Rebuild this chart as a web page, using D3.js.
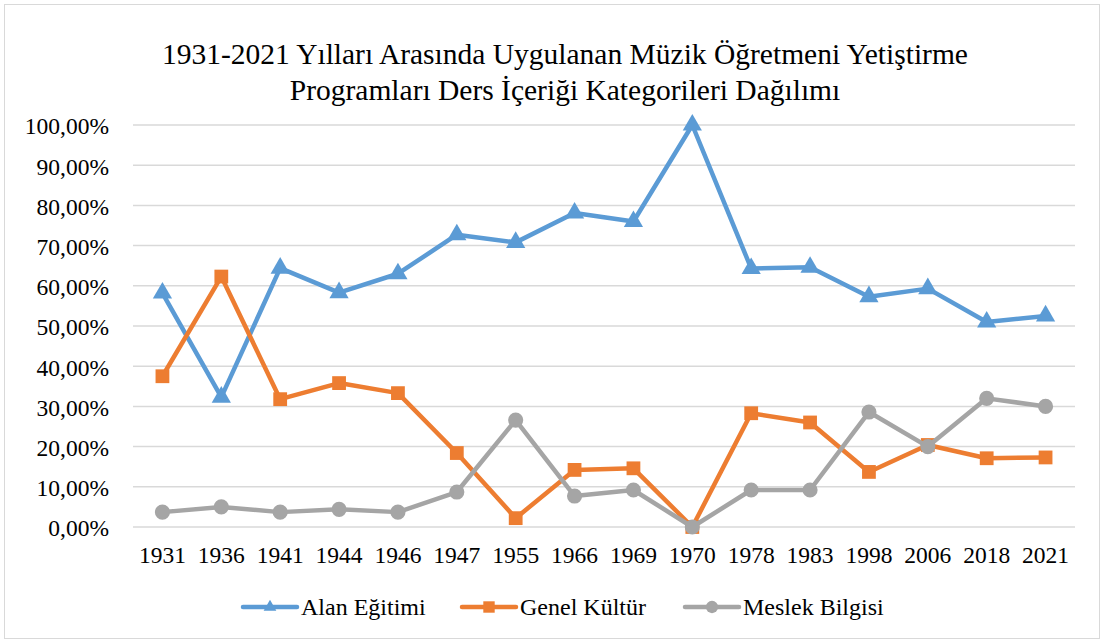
<!DOCTYPE html>
<html><head><meta charset="utf-8">
<script src="https://cdn.jsdelivr.net/npm/d3@7"></script>
<style>body{margin:0;background:#fff}
text{font-family:"Liberation Serif","Times New Roman",Tinos,serif;}</style>
</head><body>
<script>
const years = ["1931","1936","1941","1944","1946","1947","1955","1966","1969","1970","1978","1983","1998","2006","2018","2021"];
const alanEgitimi = [58.2,32.3,64.4,58.3,63.0,72.7,70.8,78.1,76.0,100,64.3,64.6,57.3,59.3,51.0,52.5];
const genelKultur = [37.5,62.3,31.8,35.8,33.3,18.4,2.2,14.2,14.6,0,28.3,26.0,13.7,20.4,17.1,17.3];
const meslekBilgisi = [3.7,5.0,3.7,4.4,3.7,8.7,26.6,7.7,9.2,0,9.2,9.2,28.6,20.0,32.0,30.0];
const yTicks = [0,10,20,30,40,50,60,70,80,90,100];
const seriesNames = ["Alan Eğitimi","Genel Kültür","Meslek Bilgisi"];
const titleLines = ["1931-2021 Yılları Arasında Uygulanan Müzik Öğretmeni Yetiştirme","Programları Ders İçeriği Kategorileri Dağılımı"];

const W=1105,H=643;
const FS=s=>`font-family:"Liberation Serif",Tinos,serif;font-size:${s}px`;
const svg=d3.select("body").append("svg").attr("width",W).attr("height",H);
svg.append("rect").attr("x",4.5).attr("y",4.5).attr("width",1095).attr("height",634)
  .attr("fill","#fff").attr("stroke","#d9d9d9").attr("stroke-width",1);

svg.selectAll("text.title").data(titleLines).join("text").attr("class","title")
  .attr("x",565).attr("y",(d,i)=>64+i*36).attr("text-anchor","middle")
  .attr("style",FS(29.5)).attr("fill","#000").text(d=>d);

const x=d3.scaleBand().domain(years).range([133,1075]);
const y=d3.scaleLinear().domain([0,100]).range([527,125]);

const g=svg.append("g");
g.selectAll("line.grid").data(yTicks).join("line").attr("class","grid")
  .attr("x1",133).attr("x2",1075).attr("y1",d=>y(d)).attr("y2",d=>y(d))
  .attr("stroke","#d9d9d9").attr("stroke-width",1.5);

const yAxis=svg.append("g").attr("transform","translate(133,0)")
  .call(d3.axisLeft(y).tickValues(yTicks).tickSize(0).tickPadding(24)
    .tickFormat(d=>d3.format(".2f")(d).replace(".",",")+"%"));
yAxis.select(".domain").remove();
yAxis.selectAll("text").attr("style",FS(23.5)).attr("fill","#000").attr("dy","0.38em");

const xAxis=svg.append("g").attr("transform","translate(0,527)")
  .call(d3.axisBottom(x).tickSize(0).tickPadding(19));
xAxis.select(".domain").remove();
xAxis.selectAll("text").attr("style",FS(23.5)).attr("fill","#000");

const cx=d=>x(d)+x.bandwidth()/2;
const series=[
  {name:seriesNames[0],vals:alanEgitimi,color:"#5B9BD5",sym:d3.symbolTriangle,size:160,lsize:70},
  {name:seriesNames[1],vals:genelKultur,color:"#ED7D31",sym:d3.symbolSquare,size:190,lsize:130},
  {name:seriesNames[2],vals:meslekBilgisi,color:"#A5A5A5",sym:d3.symbolCircle,size:180,lsize:120}
];
const line=d3.line().x((d,i)=>cx(years[i])).y(d=>y(d));
series.forEach(s=>{
  g.append("path").attr("d",line(s.vals)).attr("fill","none").attr("stroke",s.color)
    .attr("stroke-width",4.5).attr("stroke-linejoin","round");
  g.selectAll(null).data(s.vals).join("path")
    .attr("transform",(d,i)=>`translate(${cx(years[i])},${y(d)})`)
    .attr("d",d3.symbol().type(s.sym).size(s.size)).attr("fill",s.color);
});

const legX=[243,462,685];
const leg=svg.append("g");
series.forEach((s,i)=>{
  const lx=legX[i], ly=607;
  leg.append("line").attr("x1",lx).attr("x2",lx+54).attr("y1",ly).attr("y2",ly)
    .attr("stroke",s.color).attr("stroke-width",4.5).attr("stroke-linecap","round");
  leg.append("path").attr("transform",`translate(${lx+27},${ly})`)
    .attr("d",d3.symbol().type(s.sym).size(s.lsize)).attr("fill",s.color);
  leg.append("text").attr("x",lx+58).attr("y",ly).attr("dy","0.35em")
    .attr("style",FS(24)).attr("fill","#000").text(s.name);
});
</script>
</body></html>
